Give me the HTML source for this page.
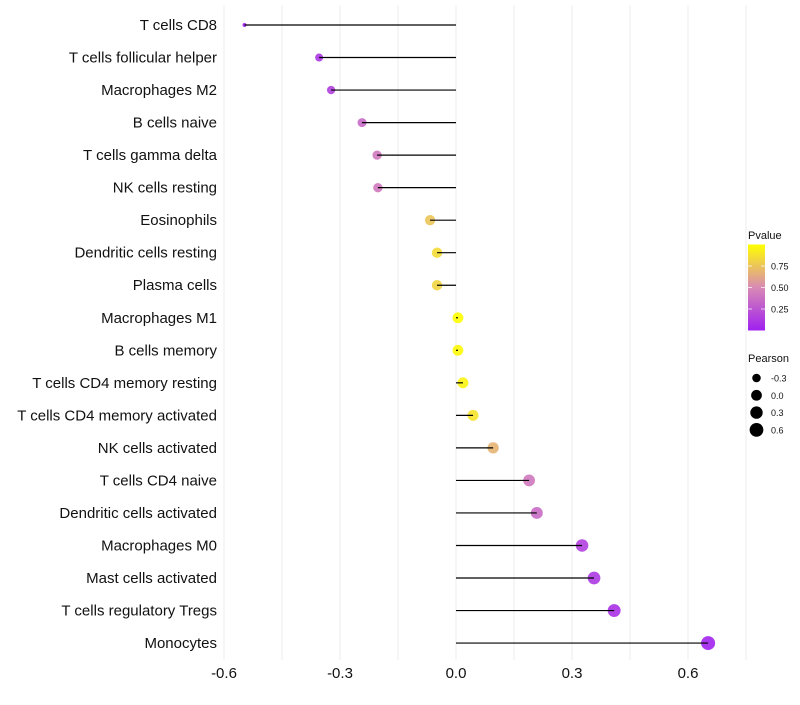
<!DOCTYPE html>
<html><head><meta charset="utf-8"><style>
body{margin:0;background:#fff;font-family:"Liberation Sans",sans-serif;}
svg text{font-family:"Liberation Sans",sans-serif;}
</style></head><body>
<svg id="c" width="800" height="700">
<defs><linearGradient id="pg" x1="0" y1="1" x2="0" y2="0">
<stop offset="0" stop-color="#A020F0"/><stop offset="0.5" stop-color="#D88AB4"/><stop offset="1" stop-color="#FFFF00"/>
</linearGradient></defs>
<g id="grid"></g><g id="points"></g><g id="marks"></g><g id="labels"></g><g id="legend"></g>
</svg>
<script>
const categories=["T cells CD8","T cells follicular helper","Macrophages M2","B cells naive","T cells gamma delta","NK cells resting","Eosinophils","Dendritic cells resting","Plasma cells","Macrophages M1","B cells memory","T cells CD4 memory resting","T cells CD4 memory activated","NK cells activated","T cells CD4 naive","Dendritic cells activated","Macrophages M0","Mast cells activated","T cells regulatory  Tregs","Monocytes"];
const pearson=[-0.547,-0.354,-0.323,-0.243,-0.204,-0.202,-0.067,-0.049,-0.049,0.005,0.005,0.018,0.044,0.096,0.189,0.209,0.326,0.357,0.409,0.652];
const pvalue=[0.0,0.1,0.15,0.35,0.42,0.42,0.75,0.85,0.82,1.0,0.98,0.95,0.88,0.68,0.42,0.36,0.15,0.12,0.08,0.02];
const xTicks=[-0.6,-0.3,0.0,0.3,0.6];
const xTickLabels=["-0.6","-0.3","0.0","0.3","0.6"];
const pTicks=[0.25,0.5,0.75];
const sizeBreaks=[-0.3,0.0,0.3,0.6];
const NS="http://www.w3.org/2000/svg";
function X(v){return 456+v*386.67;}
function Y(i){return 25+i*32.53;}
function R(v){return 2+5*Math.sqrt(Math.max(0,(v+0.547)/1.2));}
function P(p){return 330.5-p*86;}
function lerp(a,b,t){return Math.round(a+(b-a)*t);}
function col(p){const s=[[160,32,240],[216,138,180],[255,255,0]];let a,b,t;if(p<0.5){a=s[0];b=s[1];t=p/0.5;}else{a=s[1];b=s[2];t=(p-0.5)/0.5;}return `rgb(${lerp(a[0],b[0],t)},${lerp(a[1],b[1],t)},${lerp(a[2],b[2],t)})`;}
function el(tag,attrs,parent,txt){const e=document.createElementNS(NS,tag);for(const k in attrs)e.setAttribute(k,attrs[k]);if(txt!==undefined)e.textContent=txt;parent.appendChild(e);return e;}
const grid=document.getElementById('grid'),points=document.getElementById('points'),marks=document.getElementById('marks'),labels=document.getElementById('labels'),legend=document.getElementById('legend');
for(let v=-0.75;v<=0.76;v+=0.15){const x=X(v);if(x<210||x>750)continue;
 const g=el('line',{x1:x,x2:x,y1:5,y2:660,stroke:'#ececec','stroke-width':1},grid);
 
 }
xTicks.forEach((v,i)=>{const t=el('text',{x:X(v),y:678,'text-anchor':'middle','font-size':15,fill:'#111'},labels,xTickLabels[i]);
 
 });
categories.forEach((c,i)=>{const y=Y(i);
 const t=el('text',{x:217,y:y+5,'text-anchor':'end','font-size':15,fill:'#111'},labels,c);
 
 
 const d=el('circle',{cx:X(pearson[i]),cy:y,r:R(pearson[i]),fill:col(pvalue[i]),'fill-opacity':0.9},points);
 
 
 const l=el('line',{x1:X(0),x2:X(pearson[i]),y1:y,y2:y,stroke:'#000','stroke-width':1.2},marks);
 
 });
let t=el('text',{x:748,y:239,'font-size':11,fill:'#111'},legend,'Pvalue');


const bar=el('rect',{x:748,y:244.5,width:17,height:86,fill:'url(#pg)'},legend);


pTicks.forEach(p=>{const y=P(p);
 el('line',{x1:748,x2:752,y1:y,y2:y,stroke:'#fff','stroke-opacity':0.7},legend);
 el('line',{x1:761,x2:765,y1:y,y2:y,stroke:'#fff','stroke-opacity':0.7},legend);
 const tl=el('text',{x:771,y:y+3.5,'font-size':9,fill:'#111'},legend,p.toFixed(2));
 
 });
t=el('text',{x:748,y:362,'font-size':11,fill:'#111'},legend,'Pearson');


sizeBreaks.forEach((v,i)=>{const y=378+i*17.3;
 const c=el('circle',{cx:756.5,cy:y,r:R(v),fill:'#000'},legend);
 
 
 const tl=el('text',{x:771,y:y+3.5,'font-size':9,fill:'#111'},legend,v.toFixed(1));
 
 });
</script>
</body></html>
